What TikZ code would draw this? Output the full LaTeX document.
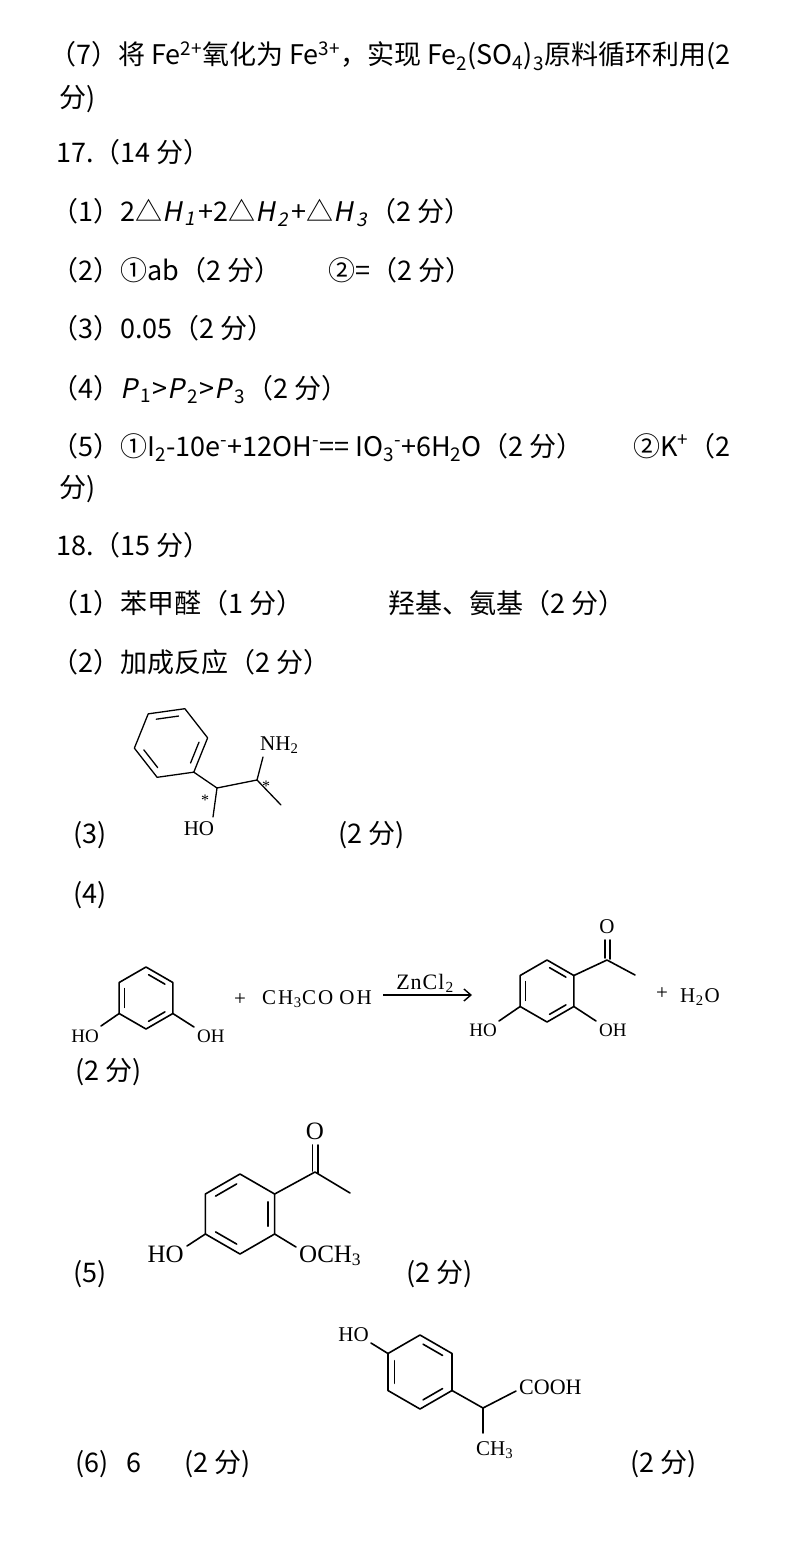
\documentclass[tikz,border=0pt]{standalone}
\usepackage{fontspec}
\setmainfont{Noto Sans CJK SC}
\newfontfamily\slnt{Noto Sans CJK SC}[FakeSlant=0.2]
\newfontfamily\chem{Liberation Serif}
\usetikzlibrary{calc,arrows.meta}
\tikzset{
  txt/.style={anchor=base west, inner sep=0pt, font=\fontsize{27}{31}\selectfont},
  lbl/.style={inner sep=0pt, font=\chem\fontsize{21}{21}\selectfont},
  lblbig/.style={inner sep=0pt, font=\chem\fontsize{25}{25}\selectfont},
  lblsm/.style={inner sep=0pt, font=\chem\fontsize{19}{19}\selectfont},
  lblmid/.style={inner sep=0pt, font=\chem\fontsize{21}{21}\selectfont},
  bond/.style={line width=1.6pt, line cap=round, line join=round},
  thinbond/.style={line width=1.3pt, line cap=round, line join=round},
}
\newcommand{\ringat}[6]{% name, cx, cy, R, start angle, style
  \coordinate (#1-c) at (#2,#3);
  \foreach \k in {1,...,6}{
    \pgfmathsetmacro{\ang}{#5-60*(\k-1)}
    \coordinate (#1-\k) at ({#2+#4*cos(\ang)},{#3-#4*sin(\ang)});
  }
  \draw[#6] (#1-1)--(#1-2)--(#1-3)--(#1-4)--(#1-5)--(#1-6)--cycle;
}
\newcommand{\dbl}[4]{% name, i, j, style
  \coordinate (#1-da#2#3) at ($(#1-#2)!0.2!(#1-c)$);
  \coordinate (#1-db#2#3) at ($(#1-#3)!0.2!(#1-c)$);
  \draw[#4] ($(#1-da#2#3)!0.12!(#1-db#2#3)$) -- ($(#1-db#2#3)!0.12!(#1-da#2#3)$);
}
\newcommand{\itH}[1]{{\slnt H}\kern3pt{\slnt\textsubscript{#1}}\kern2.5pt}
\newcommand{\itP}[1]{{\slnt P}\kern3pt\textsubscript{#1}\kern1pt}
\begin{document}
\begin{tikzpicture}[x=1pt,y=-1pt]
\useasboundingbox (0,0) rectangle (800,1563);
\fill[white] (0,0) rectangle (800,1563);

% ---- text lines ----
\node[txt] (t1) at (49,65) {（7）将 Fe\textsuperscript{2+}氧化为 Fe\textsuperscript{3+}，实现 Fe\textsubscript{2}(SO\textsubscript{4})\textsubscript{3}原料循环利用(2};
\node[txt] (t2) at (59,107) {分)};
\node[txt] (t3) at (56,162) {17.（14 分）};
\node[txt] (t4) at (51,221) {（1）2△\itH{1}+2△\itH{2}+△\itH{3}（2 分）};
\node[txt] (t5a) at (51,280) {（2）①ab（2 分）};
\node[txt] (t5b) at (328,280) {②=（2 分）};
\node[txt] (t6) at (51,338) {（3）0.05（2 分）};
\node[txt] (t7) at (51,398) {（4）\itP{1}>\itP{2}>\itP{3}（2 分）};
\node[txt] (t8a) at (51,456) {（5）①I\textsubscript{2}-10e\textsuperscript{-}+12OH\textsuperscript{-}== IO\textsubscript{3}\textsuperscript{-}+6H\textsubscript{2}O（2 分）};
\node[txt] (t8b) at (633,456) {②K\textsuperscript{+}（2};
\node[txt] (t9) at (59,497) {分)};
\node[txt] (t10) at (56,555) {18.（15 分）};
\node[txt] (t11a) at (51,613) {（1）苯甲醛（1 分）};
\node[txt] (t11b) at (388,613) {羟基、氨基（2 分）};
\node[txt] (t12) at (51,672) {（2）加成反应（2 分）};
\node[txt] (t13a) at (73,843) {(3)};
\node[txt] (t13b) at (338,843) {(2 分)};
\node[txt] (t14) at (73,903) {(4)};
\node[txt] (t15) at (75,1080) {(2 分)};
\node[txt] (t16a) at (73,1282) {(5)};
\node[txt] (t16b) at (406,1282) {(2 分)};
\node[txt] (t17a) at (75,1472) {(6)};
\node[txt] (t17b) at (126,1472) {6};
\node[txt] (t17c) at (184,1472) {(2 分)};
\node[txt] (t17d) at (630,1472) {(2 分)};

% ---- structure (3) ----
\ringat{ra}{171}{743}{37}{68}{thinbond}
\dbl{ra}{6}{1}{thinbond}
\dbl{ra}{2}{3}{thinbond}
\dbl{ra}{4}{5}{thinbond}
\coordinate (ra-c1) at (217,788);
\coordinate (ra-c2) at (257,780);
\coordinate (ra-oe) at (213,817);
\coordinate (ra-ne) at (263,757);
\coordinate (ra-me) at (281,805);
\draw[thinbond] (ra-3)--(ra-c1)--(ra-c2)--(ra-me);
\draw[thinbond] (ra-c1)--(ra-oe);
\draw[thinbond] (ra-c2)--(ra-ne);
\node[lbl] (ra-ho) at (199,829) {HO};
\node[lbl,anchor=base west] (ra-nh) at (260,750) {NH\textsubscript{2}};
\node[inner sep=0pt,font=\chem\fontsize{16}{16}\selectfont] (ra-s1) at (205,800) {*};
\node[inner sep=0pt,font=\chem\fontsize{16}{16}\selectfont] (ra-s2) at (266,786) {*};

% ---- reaction (4) ----
\ringat{rb}{146}{998}{31}{90}{bond}
\dbl{rb}{1}{2}{bond}
\dbl{rb}{5}{6}{bond}
\dbl{rb}{3}{4}{bond}
\coordinate (rb-hoe) at (101,1026);
\coordinate (rb-ohe) at (194,1027);
\draw[bond] (rb-5)--(rb-hoe);
\draw[bond] (rb-3)--(rb-ohe);
\node[lblsm,anchor=east] (rb-ho) at (99,1036) {HO};
\node[lblsm,anchor=west] (rb-oh) at (197,1036) {OH};
\node[lblmid] (plus1) at (240,1000) {+};
\node[lblmid,anchor=base west] (acid) at (262,1004) {C\kern2pt H\kern0.5pt\textsubscript{3}\kern0.5pt C\kern2pt O\kern6pt O\kern2pt H};
\coordinate (arr-s) at (383,995);
\coordinate (arr-e) at (472,995);
\draw[line width=1.4pt,-{Straight Barb[length=7pt,width=12pt,line width=1.4pt]}] (arr-s)--(arr-e);
\node[inner sep=0pt,font=\chem\fontsize{22}{22}\selectfont,anchor=base] (cat) at (425,989) {Z\kern1pt n\kern1pt C\kern1pt l\kern1pt\textsubscript{2}};
\ringat{rc}{547}{991}{31}{90}{bond}
\dbl{rc}{1}{2}{bond}
\dbl{rc}{5}{6}{bond}
\dbl{rc}{3}{4}{bond}
\coordinate (rc-co) at (607,960);
\coordinate (rc-me) at (635,975);
\coordinate (rc-o1a) at (605,958);
\coordinate (rc-o1b) at (605,940);
\coordinate (rc-o2a) at (610,959);
\coordinate (rc-o2b) at (610,940);
\draw[bond] (rc-2)--(rc-co)--(rc-me);
\draw[bond] (rc-o1a)--(rc-o1b);
\draw[bond] (rc-o2a)--(rc-o2b);
\node[lblmid] (rc-o) at (607,927) {O};
\coordinate (rc-hoe) at (499,1021);
\coordinate (rc-ohe) at (596,1021);
\draw[bond] (rc-5)--(rc-hoe);
\draw[bond] (rc-3)--(rc-ohe);
\node[lblsm,anchor=east] (rc-ho) at (497,1030) {HO};
\node[lblsm,anchor=west] (rc-oh) at (599,1030) {OH};
\node[lblmid] (plus2) at (662,994) {+};
\node[lblmid,anchor=base west] (water) at (680,1002) {H\kern0.5pt\textsubscript{2}\kern1pt O};

% ---- structure (5) ----
\ringat{rd}{240}{1214}{40}{90}{bond}
\dbl{rd}{6}{1}{bond}
\dbl{rd}{2}{3}{bond}
\dbl{rd}{4}{5}{bond}
\coordinate (rd-co) at (315,1172);
\coordinate (rd-me) at (350,1193);
\coordinate (rd-o1a) at (312.5,1171);
\coordinate (rd-o1b) at (312.5,1145);
\coordinate (rd-o2a) at (318,1173);
\coordinate (rd-o2b) at (318,1145);
\draw[bond] (rd-2)--(rd-co)--(rd-me);
\draw[bond] (rd-o1a)--(rd-o1b);
\draw[bond] (rd-o2a)--(rd-o2b);
\node[lblbig] (rd-o) at (315,1131) {O};
\coordinate (rd-hoe) at (187,1246);
\coordinate (rd-ome) at (296,1247);
\draw[bond] (rd-5)--(rd-hoe);
\draw[bond] (rd-3)--(rd-ome);
\node[lblbig,anchor=east] (rd-ho) at (184,1254) {HO};
\node[lblbig,anchor=base west] (rd-och) at (299,1262) {OCH\textsubscript{3}};

% ---- structure (6) ----
\ringat{re}{420}{1372}{37}{90}{bond}
\dbl{re}{1}{2}{bond}
\dbl{re}{5}{6}{bond}
\dbl{re}{3}{4}{bond}
\coordinate (re-hoe) at (371,1343);
\coordinate (re-ch) at (483,1408);
\coordinate (re-ce) at (516,1391);
\coordinate (re-me) at (483,1433);
\draw[bond] (re-6)--(re-hoe);
\draw[bond] (re-3)--(re-ch)--(re-ce);
\draw[bond] (re-ch)--(re-me);
\node[lbl,anchor=east] (re-ho) at (369,1335) {HO};
\node[lbl,anchor=west,font=\chem\fontsize{22}{22}\selectfont] (re-cooh) at (519,1387) {COOH};
\node[lbl,anchor=base west] (re-ch3) at (476,1455) {CH\textsubscript{3}};
\end{tikzpicture}
\end{document}
